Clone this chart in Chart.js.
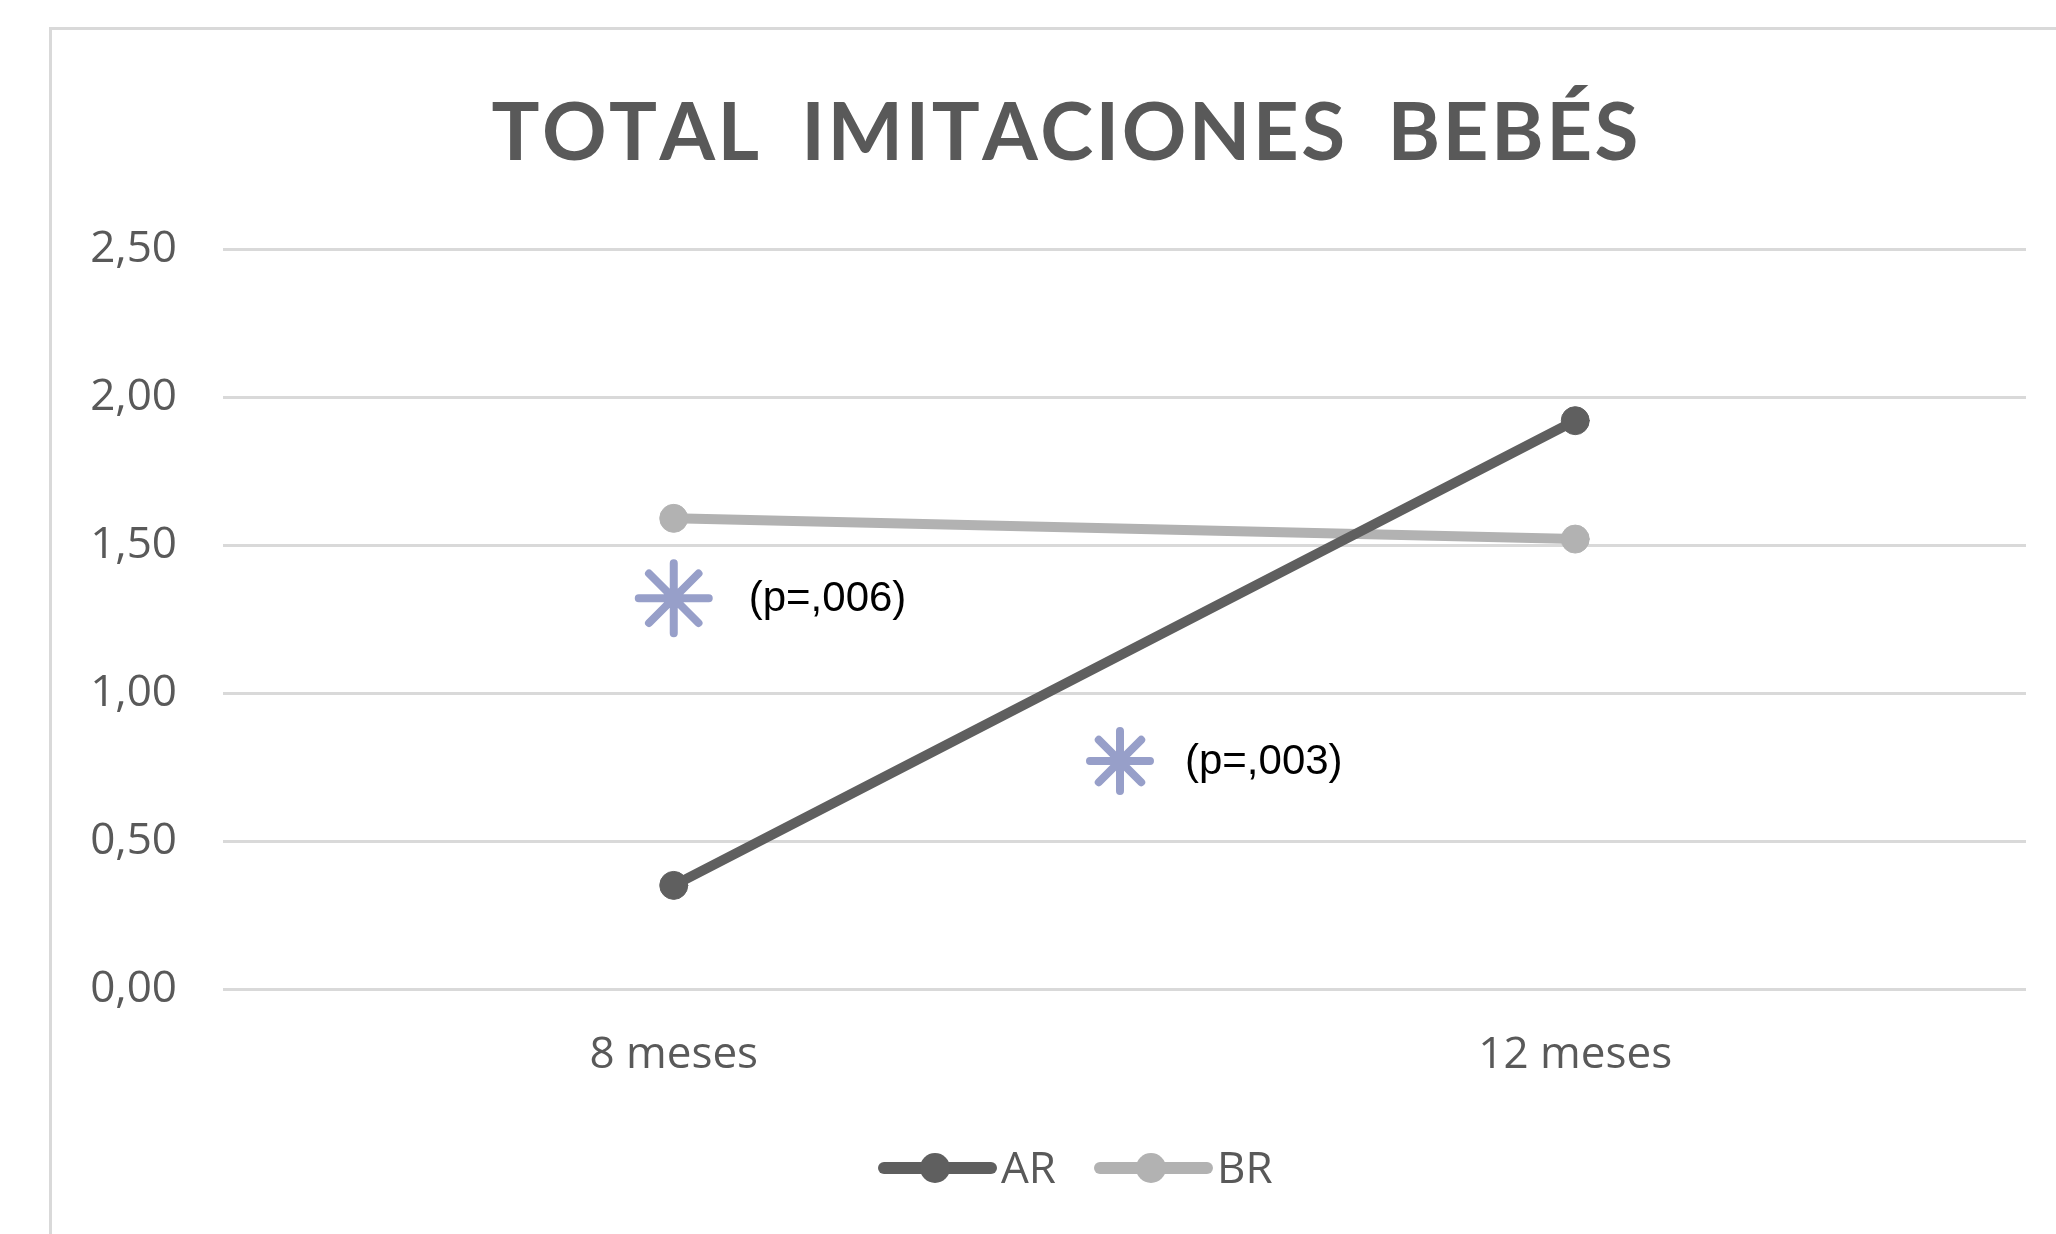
<!DOCTYPE html>
<html>
<head>
<meta charset="utf-8">
<script src="https://cdn.jsdelivr.net/npm/chart.js@4"></script>
<style>
  html, body { margin: 0; padding: 0; background: #ffffff; overflow: hidden; }
  #frame { position: absolute; left: 49px; top: 27px; width: 2100px; height: 1300px; border: 3px solid #d9d9d9; box-sizing: border-box; }
  #c { position: absolute; left: 0; top: 0; }
</style>
</head>
<body>
<div id="frame"></div>
<canvas id="c" width="2056" height="1234"></canvas>
<script>
// ---- data ----
const titleText = 'TOTAL IMITACIONES BEBÉS';
const categories = ['8 meses', '12 meses'];
const seriesNames = ['AR', 'BR'];
const arValues = [0.35, 1.92];
const brValues = [1.59, 1.52];
const yTicks = [0, 0.5, 1, 1.5, 2, 2.5];
const starX = [0, 0.495];
const starY = [1.32, 0.77];
const pLabels = ['(p=,006)', '(p=,003)'];

// ---- styles ----
const AR_COLOR = '#5f5f5f';
const BR_COLOR = '#b2b2b2';
const STAR_COLOR = '#979fc9';
const TEXT_GRAY = '#595959';
const GRID = '#d9d9d9';
const AXIS_FONT = { family: "'Open Sans', sans-serif", size: 44 };
const starRadius = [35, 30];

const titlePlugin = {
  id: 'titleDraw',
  afterDraw(chart) {
    const ctx = chart.ctx;
    ctx.save();
    ctx.font = "bold 80px Lato, 'Open Sans', sans-serif";
    ctx.fillStyle = TEXT_GRAY;
    ctx.textBaseline = 'alphabetic';
    ctx.textAlign = 'left';
    const chars = Array.from(titleText);
    const targetW = 1147;
    let base = 0;
    chars.forEach(ch => { base += ctx.measureText(ch).width; });
    const spaceExtra = 18;
    const nSpaces = chars.filter(c => c === ' ').length;
    const gap = (targetW - base - nSpaces * spaceExtra) / (chars.length - 1);
    let x = 1065 - targetW / 2;
    chars.forEach(ch => {
      ctx.fillText(ch, x, 160);
      x += ctx.measureText(ch).width + gap + (ch === ' ' ? spaceExtra : 0);
    });
    ctx.restore();
  }
};

const roundCapPlugin = {
  id: 'roundCaps',
  beforeDatasetDraw(chart, args) {
    chart.ctx.save();
    chart.ctx.lineCap = 'round';
  },
  afterDatasetDraw(chart, args) {
    chart.ctx.restore();
  }
};

const annotPlugin = {
  id: 'pLabels',
  afterDatasetsDraw(chart) {
    const ctx = chart.ctx;
    const xs = chart.scales.x, ys = chart.scales.y;
    ctx.save();
    ctx.font = "42px 'Liberation Sans', Arial, sans-serif";
    ctx.fillStyle = '#000000';
    ctx.textBaseline = 'middle';
    ctx.textAlign = 'left';
    pLabels.forEach((t, i) => {
      const px = xs.getPixelForValue(starX[i]) + starRadius[i] * 2 + 5;
      const py = ys.getPixelForValue(starY[i]) + 1;
      ctx.fillText(t, px, py);
    });
    ctx.restore();
  }
};

const legendPlugin = {
  id: 'customLegend',
  afterDraw(chart) {
    const ctx = chart.ctx;
    const colors = [AR_COLOR, BR_COLOR];
    const y = 1168;
    let x0 = 878;
    ctx.save();
    ctx.font = "44px 'Open Sans', sans-serif";
    ctx.textBaseline = 'middle';
    ctx.textAlign = 'left';
    seriesNames.forEach((name, i) => {
      ctx.strokeStyle = colors[i];
      ctx.lineWidth = 12;
      ctx.lineCap = 'round';
      ctx.beginPath();
      ctx.moveTo(x0 + 6, y);
      ctx.lineTo(x0 + 113, y);
      ctx.stroke();
      ctx.fillStyle = colors[i];
      ctx.beginPath();
      ctx.arc(x0 + 57, y, 15, 0, Math.PI * 2);
      ctx.fill();
      ctx.fillStyle = TEXT_GRAY;
      const tx = x0 + 123;
      ctx.fillText(name, tx, y + 2);
      x0 = tx + ctx.measureText(name).width + 38;
    });
    ctx.restore();
  }
};

const toPts = vals => vals.map((v, i) => ({ x: i, y: v }));

new Chart(document.getElementById('c'), {
  type: 'line',
  data: {
    datasets: [
      {
        label: seriesNames[0], data: toPts(arValues),
        borderColor: AR_COLOR, backgroundColor: AR_COLOR,
        borderWidth: 10, pointRadius: 14, pointBorderWidth: 1,
        pointBackgroundColor: AR_COLOR, borderCapStyle: 'round'
      },
      {
        label: seriesNames[1], data: toPts(brValues),
        borderColor: BR_COLOR, backgroundColor: BR_COLOR,
        borderWidth: 10, pointRadius: 14, pointBorderWidth: 1,
        pointBackgroundColor: BR_COLOR, borderCapStyle: 'round'
      },
      {
        label: 'sig', data: starX.map((x, i) => ({ x: x, y: starY[i] })),
        showLine: false, pointStyle: 'star', pointRadius: starRadius,
        pointBorderWidth: 8, borderColor: STAR_COLOR, backgroundColor: STAR_COLOR
      }
    ]
  },
  options: {
    responsive: false,
    devicePixelRatio: 1,
    animation: false,
    events: [],
    layout: { autoPadding: false, padding: { top: 249, right: 30, left: 0, bottom: 0 } },
    plugins: { legend: { display: false }, tooltip: { enabled: false }, title: { display: false } },
    scales: {
      x: {
        type: 'linear', min: -0.5, max: 1.5,
        afterBuildTicks: s => { s.ticks = categories.map((c, i) => ({ value: i })); },
        afterFit: s => { s.height = 245; s.paddingLeft = 0; s.paddingRight = 0; },
        ticks: { callback: v => categories[v], font: AXIS_FONT, color: TEXT_GRAY, padding: 40, maxRotation: 0 },
        grid: { display: false, drawTicks: false },
        border: { display: false }
      },
      y: {
        min: 0, max: 2.5,
        afterBuildTicks: s => { s.ticks = yTicks.map(v => ({ value: v })); },
        afterFit: s => { s.width = 223; },
        ticks: { callback: v => v.toFixed(2).replace('.', ','), font: AXIS_FONT, color: TEXT_GRAY, padding: 46 },
        grid: { color: GRID, lineWidth: 3, drawTicks: false },
        border: { display: false }
      }
    }
  },
  plugins: [roundCapPlugin, titlePlugin, annotPlugin, legendPlugin]
});
</script>
</body>
</html>
